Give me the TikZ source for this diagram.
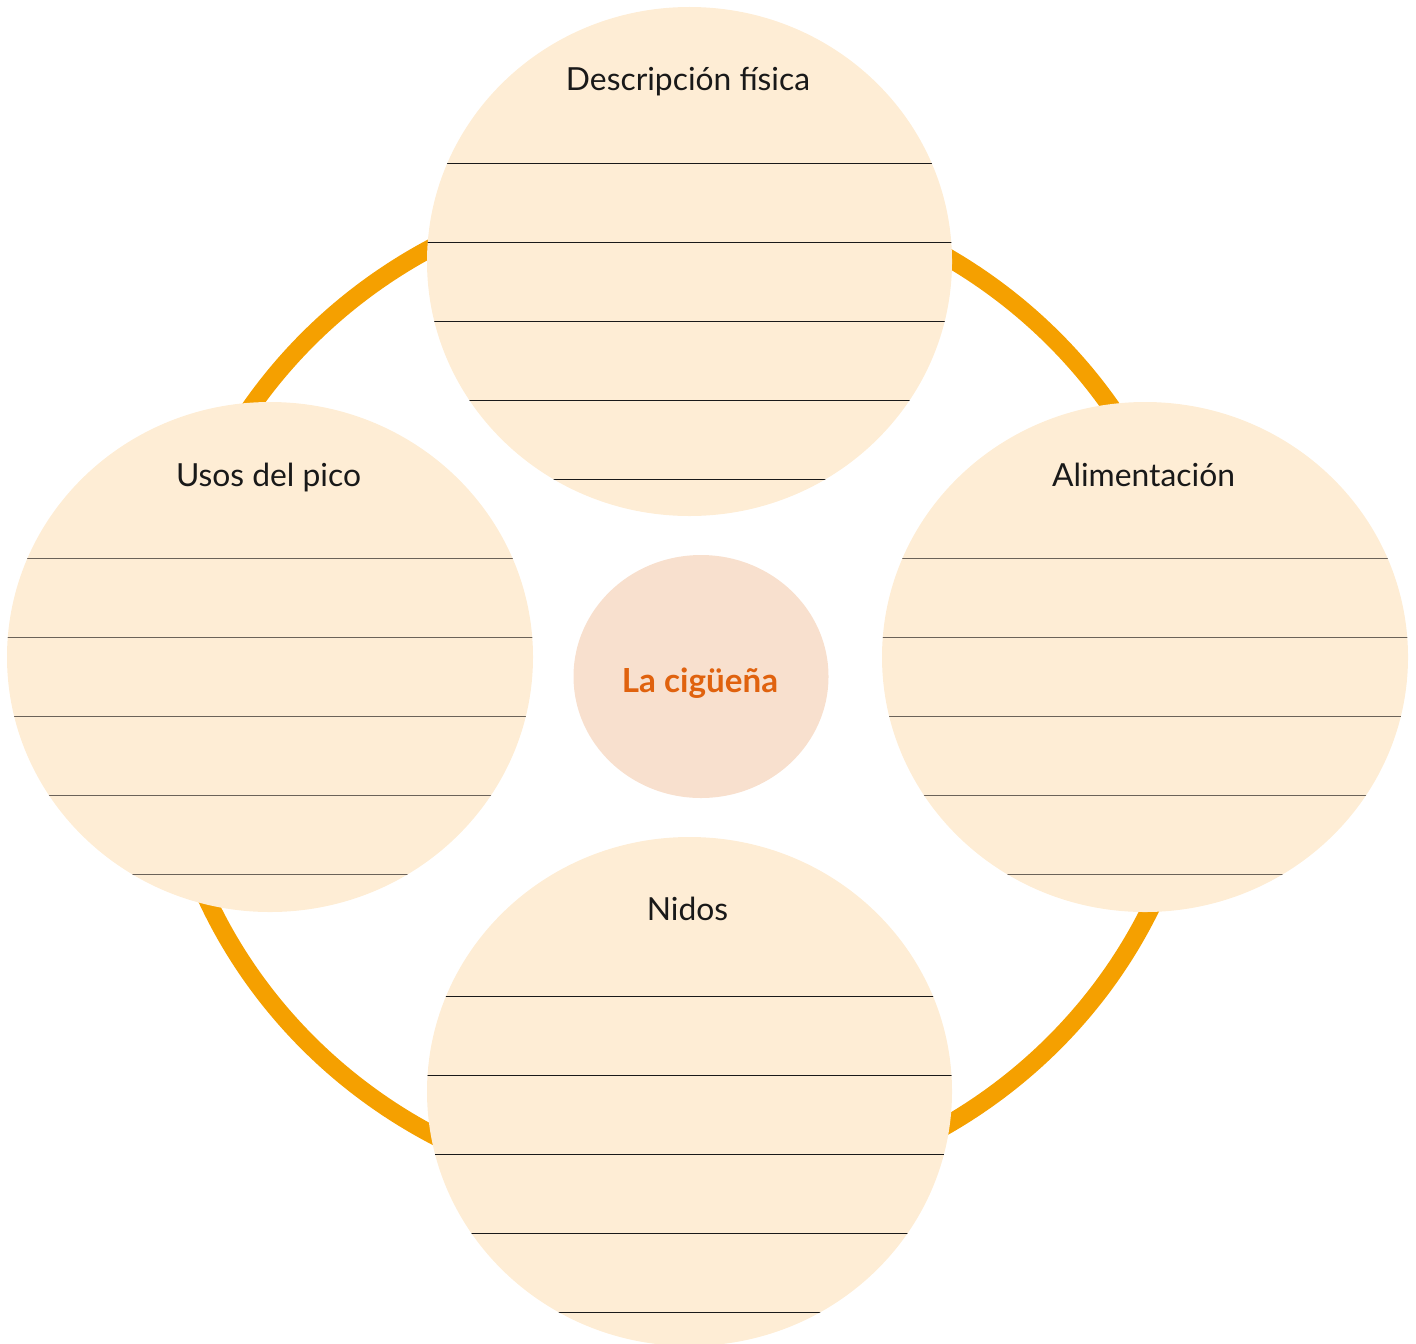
\documentclass[tikz,border=0pt]{standalone}
\usepackage{fontspec}
\setmainfont{Lato}
\definecolor{ringor}{HTML}{F5A000}
\definecolor{bubble}{HTML}{FEEDD5}
\definecolor{corefill}{HTML}{F8E0CE}
\definecolor{coretext}{HTML}{E0620E}
\definecolor{rulegray}{HTML}{6B6259}
\begin{document}
\begin{tikzpicture}[x=0.5pt,y=-0.5pt,
  ringline/.style={draw=ringor,line width=9pt},
  ruledark/.style={draw=black!90,line width=0.7pt},
  rulegrey/.style={draw=rulegray,line width=0.75pt},
  title/.style={font=\fontsize{15.9}{18}\selectfont,text=black!90,anchor=base,inner sep=0pt},
  coretitle/.style={font=\bfseries\fontsize{16.6}{19}\selectfont,text=coretext,anchor=base,inner sep=0pt}]
\useasboundingbox (0,0) rectangle (1416,1343);
\clip (0,0) rectangle (1416,1343);
% orange ring
\draw[ringline] (681,691) ellipse [x radius=520, y radius=505];
% top bubble
\begin{scope}
  \fill[bubble] (689.5,261.5) ellipse [x radius=262.5, y radius=254.5];
  \clip (689.5,261.5) ellipse [x radius=262.5, y radius=254.5];
  \foreach \yy in {163.3,242.3,321.3,400.3,479.3} \draw[ruledark] (400,\yy) -- (980,\yy);
\end{scope}
% left bubble
\begin{scope}
  \fill[bubble] (270,657) ellipse [x radius=263, y radius=255];
  \clip (270,657) ellipse [x radius=263, y radius=255];
  \foreach \yy in {558.3,637.5,716.5,795.5,874.5} \draw[rulegrey] (0,\yy) -- (560,\yy);
\end{scope}
% right bubble
\begin{scope}
  \fill[bubble] (1145,657) ellipse [x radius=263, y radius=255];
  \clip (1145,657) ellipse [x radius=263, y radius=255];
  \foreach \yy in {558.3,637.5,716.5,795.5,874.5} \draw[rulegrey] (860,\yy) -- (1416,\yy);
\end{scope}
% bottom bubble
\begin{scope}
  \fill[bubble] (689.5,1091.5) ellipse [x radius=262.5, y radius=254.5];
  \clip (689.5,1091.5) ellipse [x radius=262.5, y radius=254.5];
  \foreach \yy in {996.3,1075.3,1154.3,1233.3,1312.3} \draw[ruledark] (400,\yy) -- (980,\yy);
\end{scope}
% centre
\fill[corefill] (701,676.5) ellipse [x radius=127.5, y radius=121.5];
% labels
\node[title] (desc) at (688,90.5) {Descripción física};
\node[title] (usos) at (268.5,486) {Usos del pico};
\node[title] (alim) at (1143.5,486) {Alimentación};
\node[title] (nidos) at (687.5,920) {Nidos};
\node[coretitle] (core) at (700,692) {La cigüeña};
\end{tikzpicture}
\end{document}
